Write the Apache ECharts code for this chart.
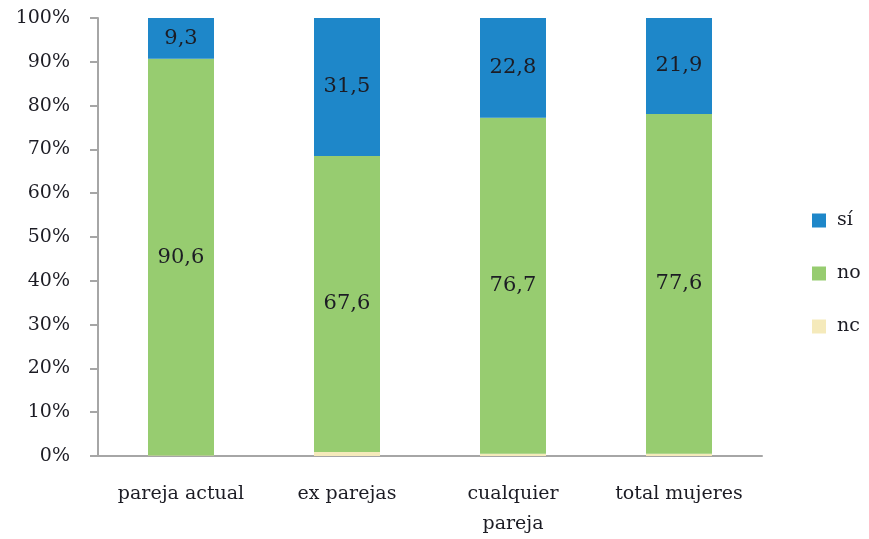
<!DOCTYPE html>
<html><head><meta charset="utf-8">
<script src="https://cdn.jsdelivr.net/npm/echarts@6/dist/echarts.min.js"></script>
<style>html,body{margin:0;padding:0;background:#fff}#c{width:869px;height:539px}</style>
</head><body><div id="c"></div>
<script>
const categories = ['pareja actual', 'ex parejas', 'cualquier\npareja', 'total mujeres'];
const si = [9.3, 31.5, 22.8, 21.9];
const no = [90.6, 67.6, 76.7, 77.6];
const nc = [0.1, 0.9, 0.5, 0.5];
const yTicks = [0, 10, 20, 30, 40, 50, 60, 70, 80, 90, 100];

const font = 'DejaVu Serif';
const txt = '#1c1c24';
const fmt = p => String(p.value).replace('.', ',');
const chart = echarts.init(document.getElementById('c'));
chart.setOption({
  animation: false,
  textStyle: { fontFamily: font },
  grid: { left: 98, right: 107, top: 18, bottom: 83 },
  legend: {
    orient: 'vertical', left: 807, top: 206, itemGap: 34, itemWidth: 14, itemHeight: 14,
    icon: 'rect',
    data: ['sí', 'no', 'nc'],
    textStyle: { fontFamily: font, fontSize: 19, color: txt, padding: [0, 0, 0, 6] }
  },
  xAxis: {
    type: 'category', data: categories,
    axisLine: { lineStyle: { color: '#a6a6a6', width: 2 } },
    axisTick: { length: 8, lineStyle: { color: '#a6a6a6', width: 2 } },
    axisLabel: { fontFamily: font, fontSize: 19, color: txt, margin: 23, lineHeight: 30 }
  },
  yAxis: {
    type: 'value', min: 0, max: 100, interval: 10,
    axisLine: { show: true, lineStyle: { color: '#a6a6a6', width: 2 } },
    axisTick: { show: true, length: 8, lineStyle: { color: '#a6a6a6', width: 2 } },
    splitLine: { show: false },
    axisLabel: { fontFamily: font, fontSize: 19, color: txt, margin: 28,
      formatter: v => yTicks.includes(v) ? v + '%' : '' }
  },
  series: [
    { name: 'nc', type: 'bar', stack: 't', data: nc, barWidth: 66, itemStyle: { color: '#f5eabb' } },
    { name: 'no', type: 'bar', stack: 't', data: no, barWidth: 66, itemStyle: { color: '#97cc70' },
      label: { show: true, position: 'inside', formatter: fmt, fontFamily: font, fontSize: 21, color: txt } },
    { name: 'sí', type: 'bar', stack: 't', data: si, barWidth: 66, itemStyle: { color: '#1e87c9' },
      label: { show: true, position: 'inside', formatter: fmt, fontFamily: font, fontSize: 21, color: txt } }
  ]
});
</script></body></html>
